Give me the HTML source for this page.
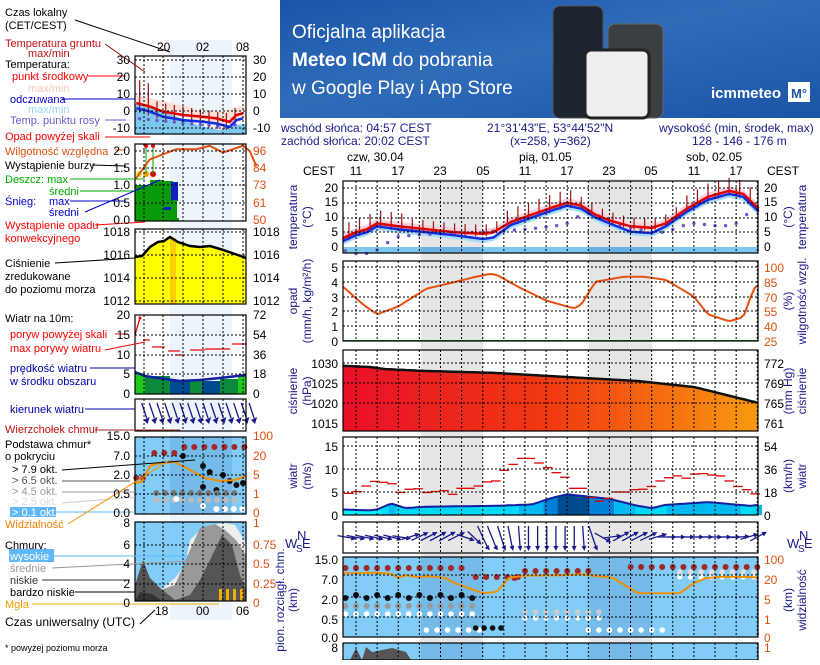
<!DOCTYPE html>
<html><head><meta charset="utf-8">
<style>
body{margin:0;background:#fff;width:820px;height:660px;overflow:hidden;font-family:"Liberation Sans",sans-serif}
svg text{font-family:"Liberation Sans","DejaVu Sans",sans-serif}
</style></head><body>
<svg id="s" width="820" height="660" viewBox="0 0 820 660" xmlns="http://www.w3.org/2000/svg">
<defs>
<linearGradient id="bn" x1="0" y1="0" x2="1" y2="1"><stop offset="0" stop-color="#1a55a8"/><stop offset="0.45" stop-color="#2f6cb8"/><stop offset="1" stop-color="#1c54a6"/></linearGradient>
<linearGradient id="pg" x1="0" y1="0" x2="1" y2="0"><stop offset="0" stop-color="#e8102a"/><stop offset="0.5" stop-color="#f03a10"/><stop offset="1" stop-color="#f89a10"/></linearGradient>
</defs>
<rect x="280" y="0" width="540" height="118" fill="url(#bn)"/>
<text x="292" y="38" fill="#fff" font-size="19">Oficjalna aplikacja</text>
<text x="292" y="66" fill="#fff" font-size="19"><tspan font-weight="bold">Meteo ICM</tspan> do pobrania</text>
<text x="292" y="94" fill="#fff" font-size="19">w Google Play i App Store</text>
<rect x="553" y="6" width="50" height="112" rx="7" fill="#1c2430" stroke="#555"/>
<rect x="608" y="24" width="55" height="94" rx="7" fill="#3a3f44" stroke="#666"/>
<rect x="585" y="50" width="64" height="68" rx="6" fill="#eee" stroke="#222" stroke-width="3"/>
<text x="711" y="98" fill="#fff" font-size="15" font-weight="bold">icmmeteo</text>
<rect x="788" y="82" width="22" height="20" fill="#fff"/><text x="791" y="98" fill="#1c54a6" font-size="13" font-weight="bold">M°</text>

<g id="g"></g>

<g font-size="12" fill="#1a1a8c">
<text x="281" y="132">wschód słońca: 04:57 CEST</text>
<text x="281" y="145">zachód słońca: 20:02 CEST</text>
<text x="487" y="132">21°31'43"E, 53°44'52"N</text>
<text x="510" y="145">(x=258,  y=362)</text>
<text x="659" y="132">wysokość (min, środek, max)</text>
<text x="692" y="145">128 - 146 - 176 m</text>
</g>
<g font-size="12" fill="#000">
<text x="347" y="161">czw, 30.04</text><text x="519" y="161">pią, 01.05</text><text x="686" y="161">sob, 02.05</text>
<text x="303" y="175">CEST</text><text x="767" y="175">CEST</text>
</g>
<g font-size="12" fill="#000" text-anchor="middle">
<text x="356" y="175">11</text><text x="398" y="175">17</text><text x="440" y="175">23</text><text x="483" y="175">05</text><text x="525" y="175">11</text><text x="567" y="175">17</text><text x="609" y="175">23</text><text x="651" y="175">05</text><text x="694" y="175">11</text><text x="736" y="175">17</text>
</g>
<g font-size="12" fill="#000" text-anchor="end">
<text x="338" y="192">20</text><text x="338" y="206">15</text><text x="338" y="221">10</text><text x="338" y="236">5</text><text x="338" y="251">0</text>
<text x="338" y="272">5</text><text x="338" y="287">4</text><text x="338" y="302">3</text><text x="338" y="316">2</text><text x="338" y="331">1</text><text x="338" y="346">0</text>
<text x="338" y="368">1030</text><text x="338" y="388">1025</text><text x="338" y="408">1020</text><text x="338" y="428">1015</text>
<text x="338" y="451">15</text><text x="338" y="474">10</text><text x="338" y="497">5</text><text x="338" y="520">0</text>
<text x="338" y="564">15.0</text><text x="338" y="584">7.0</text><text x="338" y="604">2.0</text><text x="338" y="624">0.5</text><text x="338" y="642">0.0</text>
<text x="338" y="652">8</text>
</g>
<g font-size="12" fill="#000">
<text x="764" y="192">20</text><text x="764" y="206">15</text><text x="764" y="221">10</text><text x="764" y="236">5</text><text x="764" y="251">0</text>
<text x="764" y="368">772</text><text x="764" y="388">769</text><text x="764" y="408">765</text><text x="764" y="428">761</text>
<text x="764" y="451">54</text><text x="764" y="474">36</text><text x="764" y="497">18</text><text x="764" y="520">0</text>
</g>
<g font-size="12" fill="#e05010">
<text x="764" y="272">100</text><text x="764" y="287">85</text><text x="764" y="302">70</text><text x="764" y="316">55</text><text x="764" y="331">40</text><text x="764" y="346">25</text>
<text x="764" y="564">100</text><text x="764" y="584">20</text><text x="764" y="604">5</text><text x="764" y="624">1</text><text x="764" y="642">0</text><text x="764" y="652">1</text>
</g>
<g font-size="12" fill="#1a1a8c" text-anchor="middle">
<text transform="translate(297,217) rotate(-90)">temperatura</text><text transform="translate(311,217) rotate(-90)">(°C)</text>
<text transform="translate(297,301) rotate(-90)">opad</text><text transform="translate(311,301) rotate(-90)">(mm/h, kg/m²/h)</text>
<text transform="translate(297,391) rotate(-90)">ciśnienie</text><text transform="translate(311,391) rotate(-90)">(hPa)</text>
<text transform="translate(297,476) rotate(-90)">wiatr</text><text transform="translate(311,476) rotate(-90)">(m/s)</text>
<text transform="translate(297,600) rotate(-90)">(km)</text><text transform="translate(284,600) rotate(-90)">pion. rozciągł. chm.</text>
<text transform="translate(792,217) rotate(-90)">(°C)</text><text transform="translate(806,217) rotate(-90)">temperatura</text>
<text transform="translate(792,301) rotate(-90)">(%)</text><text transform="translate(806,301) rotate(-90)">wilgotność wzgl.</text>
<text transform="translate(792,391) rotate(-90)">(mm Hg)</text><text transform="translate(806,391) rotate(-90)">ciśnienie</text>
<text transform="translate(792,476) rotate(-90)">(km/h)</text><text transform="translate(806,476) rotate(-90)">wiatr</text>
<text transform="translate(792,600) rotate(-90)">(km)</text><text transform="translate(806,600) rotate(-90)">widzialność</text>
</g>
<g font-size="13" fill="#1a1a8c"><text x="285" y="548">W</text><text x="297" y="540">N</text><text x="296" y="552" font-size="10">S</text><text x="302" y="548">E</text>
<text x="787" y="548">W</text><text x="799" y="540">N</text><text x="798" y="552" font-size="10">S</text><text x="804" y="548">E</text></g>

<g font-size="11" fill="#000">
<text x="5" y="16">Czas lokalny</text><text x="5" y="29">(CET/CEST)</text>
<text x="157" y="51" font-size="12">20</text><text x="196" y="51" font-size="12">02</text><text x="236" y="51" font-size="12">08</text>
<text x="5" y="47" fill="#c01010">Temperatura gruntu</text><text x="28" y="57" fill="#c01010">max/min</text>
<text x="5" y="68">Temperatura:</text>
<text x="12" y="80" fill="#f00">punkt środkowy</text>
<text x="28" y="92" fill="#f8c8b8">max/min</text>
<text x="10" y="103" fill="#00c">odczuwana</text>
<text x="28" y="113" fill="#9ad4f8">max/min</text>
<text x="10" y="124" fill="#6a5acd">Temp. punktu rosy</text>
<text x="5" y="140" fill="#f00">Opad powyżej skali</text>
<text x="5" y="155" fill="#e05010">Wilgotność względna</text>
<text x="5" y="169">Wystąpienie burzy</text>
<text x="5" y="183" fill="#0a0">Deszcz: max</text><text x="49" y="195" fill="#0a0">średni</text>
<text x="5" y="205" fill="#00c">Śnieg:</text><text x="49" y="205" fill="#00c">max</text><text x="49" y="216" fill="#00c">średni</text>
<text x="5" y="229" fill="#f00">Wystąpienie opadu</text><text x="5" y="242" fill="#f00">konwekcyjnego</text>
<text x="5" y="267">Ciśnienie</text><text x="5" y="280">zredukowane</text><text x="5" y="293">do poziomu morza</text>
<text x="5" y="322">Wiatr na 10m:</text>
<text x="10" y="338" fill="#f00">poryw powyżej skali</text>
<text x="10" y="352" fill="#f00">max porywy wiatru</text>
<text x="10" y="372" fill="#00a">prędkość wiatru</text><text x="10" y="385" fill="#00a">w środku obszaru</text>
<text x="10" y="413" fill="#00a">kierunek wiatru</text>
<text x="5" y="433" fill="#c01010">Wierzchołek chmur</text>
<text x="5" y="448">Podstawa chmur*</text><text x="5" y="460">o pokryciu</text>
<text x="12" y="473">&gt; 7.9 okt.</text><text x="12" y="484" fill="#555">&gt; 6.5 okt.</text>
<text x="12" y="495" fill="#999">&gt; 4.5 okt.</text><text x="12" y="505" fill="#ddd">&gt; 2.5 okt.</text>
<rect x="10" y="507" width="46" height="10" fill="#60b8f8"/><text x="12" y="516" fill="#fff">&gt; 0.1 okt.</text>
<text x="5" y="528" fill="#f08000">Widzialność</text>
<text x="5" y="549">Chmury:</text>
<rect x="9" y="549" width="45" height="13" fill="#60b8f8"/><text x="10" y="560" fill="#fff">wysokie</text>
<text x="10" y="572" fill="#999">średnie</text><text x="10" y="584" fill="#333">niskie</text><text x="10" y="596">bardzo niskie</text>
<text x="5" y="608" fill="#f0a000">Mgła</text>
<text x="5" y="626" font-size="12">Czas uniwersalny (UTC)</text>
<text x="155" y="615" font-size="12">18</text><text x="196" y="615" font-size="12">00</text><text x="236" y="615" font-size="12">06</text>
<text x="5" y="651" font-size="9">* powyżej poziomu morza</text>
</g>
<g font-size="12" fill="#000" text-anchor="end">
<text x="130" y="64">30</text><text x="130" y="81">20</text><text x="130" y="98">10</text><text x="130" y="115">0</text><text x="130" y="132">-10</text>
<text x="130" y="155">2.0</text><text x="130" y="172">1.5</text><text x="130" y="189">1.0</text><text x="130" y="207">0.5</text><text x="130" y="224">0.0</text>
<text x="130" y="236">1018</text><text x="130" y="259">1016</text><text x="130" y="282">1014</text><text x="130" y="305">1012</text>
<text x="130" y="319">20</text><text x="130" y="339">15</text><text x="130" y="359">10</text><text x="130" y="378">5</text><text x="130" y="398">0</text>
<text x="130" y="440">15.0</text><text x="130" y="460">7.0</text><text x="130" y="479">2.0</text><text x="130" y="498">0.5</text><text x="130" y="517">0.0</text>
<text x="130" y="527">8</text><text x="130" y="549">6</text><text x="130" y="568">4</text><text x="130" y="588">2</text><text x="130" y="607">0</text>
</g>
<g font-size="12" fill="#000">
<text x="253" y="64">30</text><text x="253" y="81">20</text><text x="253" y="98">10</text><text x="253" y="115">0</text><text x="253" y="132">-10</text>
<text x="253" y="236">1018</text><text x="253" y="259">1016</text><text x="253" y="282">1014</text><text x="253" y="305">1012</text>
<text x="253" y="319">72</text><text x="253" y="339">54</text><text x="253" y="359">36</text><text x="253" y="378">18</text><text x="253" y="398">0</text>
</g>
<g font-size="12" fill="#e05010">
<text x="253" y="155">96</text><text x="253" y="172">84</text><text x="253" y="189">73</text><text x="253" y="207">61</text><text x="253" y="224">50</text>
<text x="253" y="440">100</text><text x="253" y="460">20</text><text x="253" y="479">5</text><text x="253" y="498">1</text><text x="253" y="517">0</text>
<text x="253" y="527">1</text><text x="253" y="549">0.75</text><text x="253" y="568">0.5</text><text x="253" y="588">0.25</text><text x="253" y="607">0</text>
</g>
</svg>
<script>
var g=document.getElementById('g'),h='';
function R(x,y,w,hh,f,extra){h+='<rect x="'+x+'" y="'+y+'" width="'+w+'" height="'+hh+'" fill="'+f+'" '+(extra||'')+'/>';}
function L(x1,y1,x2,y2,c,w,extra){h+='<line x1="'+x1+'" y1="'+y1+'" x2="'+x2+'" y2="'+y2+'" stroke="'+c+'" stroke-width="'+(w||1)+'" '+(extra||'')+'/>';}
function interp(p,t){for(var i=0;i<p.length-1;i++){if(t<=p[i+1][0]){var a=p[i],b=p[i+1];return a[1]+(b[1]-a[1])*(t-a[0])/(b[0]-a[0]);}}return p[p.length-1][1];}
function poly(pts,c,w,fill){h+='<polyline points="'+pts.map(function(q){return q[0].toFixed(1)+','+q[1].toFixed(1)}).join(' ')+'" fill="'+(fill||'none')+'" stroke="'+c+'" stroke-width="'+(w||1)+'"/>';}
function dot(x,y,r,c){h+='<circle cx="'+x.toFixed(1)+'" cy="'+y.toFixed(1)+'" r="'+r+'" fill="'+c+'"/>';}
var X0=343,X1=758;function X(t){return 356+7.04*t;}var H0=-1.85,H1=57.2;
var P=[[181,253],[261,341],[350,431],[437,515],[522,553],[557,637],[643,660]];
R(421,179,62,481,'#e6e6e6');R(589,179,63,481,'#e6e6e6');
var Tf=function(v){return 247-2.95*v};
R(X0,247,X1-X0,6,'#7ec8f0');
R(421,247,62,6,'#6ab0e0');R(589,247,63,6,'#6ab0e0');
var red=[[-1.85,3],[0,5],[1.5,6],[3,8],[6,7],[10,6],[14,5],[18,4.5],[19.5,5],[22,8.5],[25,11],[28,13.5],[30,15],[32,14],[34,11],[36,9],[39,7],[42,6.5],[44,8],[47,13],[50,17],[53,19],[55,18],[57.2,13]];
var blu=red.map(function(p){return [p[0],p[1]-(p[0]>16&&p[0]<20||p[0]>38&&p[0]<44?1.8:1)]});
var up=[],dn=[];for(var t=H0;t<=H1;t+=0.5){up.push([X(t),Tf(interp(red,t)+1.5)]);dn.unshift([X(t),Tf(interp(red,t)-0.8)]);}
poly(up.concat(dn),'none',0,'#f8d0d8');
var up2=[],dn2=[];for(var t=H0;t<=H1;t+=0.5){up2.push([X(t),Tf(interp(blu,t)+0.3)]);dn2.unshift([X(t),Tf(interp(blu,t)-1.3)]);}
poly(up2.concat(dn2),'none',0,'#a8dcf8');
for(var t=-1;t<=H1;t+=1.5){var v=interp(red,t);var d=(t<8?4:(t>20&&t<32?4:(t>46?4:2.5)));L(X(t),Tf(v+d+0.5),X(t),Tf(v-d*0.4),'#a01010',1.2);}
var dew=[[-1.85,-1],[-0.5,-2],[0.5,-2.5],[2,-2],[3,-1],[4,1],[5,2],[6,3.5],[8,4],[12,4.5],[18,5],[20,5.5],[24,6],[28,7],[30,8],[31,9.5],[32,11],[33,12],[34,11],[36,9],[38,7],[42,5],[44,5],[46,7],[48,8],[52,7],[54,8],[55,10],[56,12],[57.2,13]];
for(var t=-1.5;t<H1;t+=1.5)dot(X(t),Tf(interp(dew,t)),1.7,'#6a5acd');
poly(blu.map(function(p){return [X(p[0]),Tf(p[1])]}),'#1030e0',2.5);
poly(red.map(function(p){return [X(p[0]),Tf(p[1])]}),'#e00000',2.5);
var hum=[[-1.85,80],[1,62],[3,52],[6,60],[10,78],[13,83],[17,90],[19,93],[20,92],[23,80],[27,66],[31,58],[32,62],[34,85],[38,90],[41,90],[44,87],[48,70],[50,52],[53,45],[55,49],[56.5,78],[57.2,82]];
var hp=[];for(var t=H0;t<=H1;t+=0.5)hp.push([X(t),341-(interp(hum,t)-25)*0.987]);
poly(hp,'#e85010',2);
L(X0,340.5,X1,340.5,'#0a0',1);
var pr=[[-1.85,1029.3],[2,1029],[4,1028.5],[10,1028],[20,1027.5],[30,1026.5],[40,1025.5],[48,1024],[57.2,1020]];
var pp=[[X0,431]];for(var t=H0;t<=H1;t+=0.5)pp.push([X(t),423-(interp(pr,t)-1015)*4]);pp.push([X1,431]);
poly(pp,'none',0,'url(#pg)');poly(pp.slice(1,-1),'#111',2.5);
var ws=[[-1.85,1.2],[2,1],[3,1.2],[5,2.5],[7,1.5],[10,1.8],[20,2],[25,2.3],[28,3.8],[30,4.5],[36,3.5],[40,2],[42,1.5],[44,2.2],[50,2.8],[56,2],[57.2,2.2]];
function Wf(v){return 515-4.6*v}
for(var t=H0;t<H1;t+=0.5){var v=interp(ws,t+0.25);var c=v<1.5?'#00f0f8':v<2.2?'#00d8f8':v<3.2?'#00b8f0':v<4?'#0080d8':'#004a90';h+='<rect x="'+X(t).toFixed(1)+'" y="'+Wf(v).toFixed(1)+'" width="3.8" height="'+(515-Wf(v)).toFixed(1)+'" fill="'+c+'"/>';}
var wp=[];for(var t=H0;t<=H1;t+=0.5)wp.push([X(t),Wf(interp(ws,t))]);poly(wp,'#1020a0',2);
var gu=[4.7,5.1,6.3,7.3,7.1,6.8,4.9,5.6,5.7,4.9,5.1,5.3,4.5,5.8,5.8,6.3,7.2,7.4,9.7,11,12.3,12.3,11.3,10.3,9.2,8.2,5.8,5.8,3.8,3,3.6,5,5,5.5,5.6,6.2,7.4,8.1,8.5,8.0,8.9,9.0,8.7,8.5,7.4,6.2,5.5,4.6];
var gs=(X1-X0)/gu.length;for(var i=0;i<gu.length;i++)L(X0+i*gs+1,Wf(gu[i]),X0+i*gs+gs+2,Wf(gu[i]),'#e00000',1.3);
// wind dir arrows (angle from east, clockwise positive = down)
var wd=[[-1.85,10],[6,15],[8,-25],[14,-30],[16,40],[20,60],[24,90],[32,90],[34,55],[37,-30],[42,-25],[44,0],[54,0],[57.2,-30]];
for(var t=-1.5;t<H1;t+=1.3){var x=X(t);var a=interp(wd,t)*Math.PI/180;var dx=Math.cos(a)*8,dy=Math.sin(a)*8;if(dy>6)dy=11;
var x1=x-dx,y1=537-dy,x2=x+dx,y2=537+dy;L(x1,y1,x2,y2,'#1a1a8c',1.3);
var ux=Math.cos(a),uy=Math.sin(a);h+='<polygon points="'+(x2+ux*3).toFixed(1)+','+(y2+uy*3).toFixed(1)+' '+(x2-uy*2.5-ux*2).toFixed(1)+','+(y2+ux*2.5-uy*2).toFixed(1)+' '+(x2+uy*2.5-ux*2).toFixed(1)+','+(y2-ux*2.5-uy*2).toFixed(1)+'" fill="#1a1a8c"/>';}
R(X0,557,X1-X0,80,'#82cdf8');R(421,557,62,80,'#74bbea');R(589,557,63,80,'#74bbea');
for(var t=-1.5;t<H1;t+=1.5){if(t<16||(t>22&&t<34)||t>38)dot(X(t),t<16?568:(t<24?578:(t<34?571:567)),3,'#a02828');}
for(var t=17;t<24;t+=1.5)dot(X(t),577,3,'#a02828');
for(var t=-1.5;t<17;t+=1.5){dot(X(t),598-(t%3==0?3:0),3,'#111');dot(X(t),606,3,'#999');dot(X(t),614,2.8,'#fff');}
for(var t=24;t<35;t+=1.5){dot(X(t),612,2.8,'#ccc');dot(X(t),618,2.6,'#fff');}
for(var t=10;t<19;t+=1.5)dot(X(t),630,2.8,'#fff');for(var t=17;t<21;t+=1.2)dot(X(t),628,2.8,'#111');
for(var t=33;t<45;t+=1.5)dot(X(t),630,2.8,'#fff');
for(var t=46;t<H1;t+=1.5){dot(X(t),572,2.8,'#ddd');dot(X(t),577,2.6,'#fff');}
var vis=[[-1.85,40],[3,42],[5,38],[6,20],[7,32],[9,22],[10,28],[14,16],[18,8],[20,9],[22,22],[24,30],[30,32],[32,36],[36,22],[40,8],[46,8],[48,16],[52,25],[56,24],[57.2,22]];
function VY(v){return interp([[0,636],[1,617],[5,597],[20,578],[100,559]],v)}
var vp=[];for(var t=H0;t<=H1;t+=0.5)vp.push([X(t),VY(interp(vis,t))]);poly(vp,'#f09000',2);
R(X0,643,X1-X0,20,'#82cdf8');R(421,643,62,20,'#74bbea');R(589,643,63,20,'#74bbea');
h+='<polygon points="350,660 356,648 362,660 366,647 372,652 382,650 392,648 406,652 411,660" fill="#555"/>';
function grid(y0,y1,ys){for(var t=0;t<=H1;t+=3)L(X(t),y0,X(t),y1,'#000',1,'stroke-dasharray="2,2"');ys.forEach(function(y){L(X0,y,X1,y,'#000',1,'stroke-dasharray="2,2"')});}
grid(181,253,[188,203,218,232]);grid(261,341,[267,282,297,311,326]);grid(350,431,[363,383,403]);grid(437,515,[446,469,492]);grid(522,553,[]);grid(557,637,[575,597,617]);grid(643,660,[]);
P.forEach(function(p){R(X0,p[0],X1-X0,p[1]-p[0],'none','stroke="#000" stroke-width="1.2"');});
// ===== LEFT =====
var x0=135,x1=246;function lx(t){return 163+6.67*t;}
R(170,40,62,580,'#eef4fc');
var LP=[[56,134],[144,221],[229,304],[315,394],[399,431],[437,514],[522,601]];
function lt(v){return 115-1.7*v}
h+='<polygon points="135,104 160,110 180,118 200,126 220,130 235,125 246,124 246,134 135,134" fill="#7ec8f0"/>';
h+='<polygon points="135,95 160,100 180,105 200,110 220,112 235,108 246,105 246,118 235,124 220,126 200,122 180,114 160,108 135,102" fill="#fbe0d8"/>';
for(var t=-3.5;t<11;t+=1.3){var v=interp([[-4,7],[0,2],[6,-2],[10,-4],[11,0]],t);L(lx(t),lt(v+(t<-1?14:5)),lx(t),lt(v-5),'#a01010',1.2);}
for(var t=-3.5;t<12;t+=1.3)dot(lx(t),lt(interp([[-4,-2],[4,-5],[10,-7],[12,-4]],t)),1.7,'#6a5acd');
var lr=[[-4,7],[-2,5],[0,2],[3,0],[6,-1],[8,-2],[10,-4],[11,0],[12,1]];
poly(lr.map(function(p){return [lx(p[0]),lt(p[1]-3)]}),'#1030e0',2.5);
poly(lr.map(function(p){return [lx(p[0]),lt(p[1])]}),'#e00000',2.5);
R(135,185,18,36,'#0a9a0a');R(150,180,14,41,'#0a9a0a');R(164,181,9,40,'#0a9a0a');R(171,182,7,19,'#1020c0');R(172,200,5,21,'#0a9a0a');R(164,207,7,14,'#1020c0');R(164,210,7,11,'#0a9a0a');R(173,218,6,3,'#0a9a0a');
dot(139,174,3,'#f0e020');dot(146,174,3,'#f0a000');dot(153,174,3,'#e00000');
L(146,146,146,174,'#0a0');L(153,146,153,174,'#0a0');dot(146,146,2,'#e00');dot(153,146,2,'#e00');
var lh=[];[[-4,76],[-2,88],[2,94],[5,94],[7,96],[9,92],[12,96],[13,93],[14,84]].forEach(function(p){lh.push([lx(p[0]),224-(p[1]-50)*1.7])});lh[0][0]=135;poly(lh,'#e05010',2);
h+='<polygon points="135,257 142,256 150,247 158,242 164,241 170,237 178,242 190,246 200,247 210,246 220,249 235,254 246,258 246,304 135,304" fill="#ffff00"/>';
R(170,238,6,66,'#f8d000');
poly([[135,257],[142,256],[150,247],[158,242],[164,241],[170,237],[178,242],[190,246],[200,247],[210,246],[220,249],[235,254],[246,258]],'#000',2.5);
R(135,373,10,21,'#20c820');R(145,376,25,18,'#0a8a3a');R(170,380,34,14,'#004a90');R(190,380,12,14,'#0a8a3a');R(204,381,16,13,'#004a90');R(220,379,18,15,'#0a8a3a');R(238,375,8,19,'#20c820');
poly([[135,372],[145,376],[165,379],[180,381],[200,380],[220,378],[246,375]],'#1020a0',2.5);
L(135,335,140,318,'#e00',1.3);dot(140,318,1.5,'#e00');
[[143,340,150],[152,347,165],[168,351,180],[175,355,185],[190,350,205],[205,349,230],[232,344,246]].forEach(function(a){L(a[0],a[1],a[2],a[1],'#e00',1.2)});
for(var t=-3.8;t<12.4;t+=1.15){var x=lx(t);L(x+4,403,x+9,418,'#1a1a8c',1.3);h+='<polygon points="'+(x+6)+','+(420)+' '+(x+12)+','+(417)+' '+(x+10)+','+(424)+'" fill="#1a1a8c"/>';}
R(135,437,111,77,'#82cdf8');R(170,437,62,77,'#74bbea');
for(var t=-1.3;t<12.4;t+=1.5)dot(lx(t),t<2?453:447,3,'#a02828');dot(lx(-4),478,3,'#a02828');dot(lx(-3),478,3,'#a02828');
[[4,456],[7,466],[8,472],[10,475],[11,481],[12,485],[7,487],[13,483],[9,490]].forEach(function(p){dot(lx(p[0]-1),p[1],3,'#111')});
for(var t=-1;t<12;t+=1.3){dot(lx(t),493,3,'#777');dot(lx(t),500,3,'#bbb');}
for(var t=8;t<13;t+=1.3)dot(lx(t),509,3,'#fff');dot(lx(2),499,3,'#fff');dot(lx(6),506,3,'#fff');
poly([[135,483],[142,482],[150,466],[160,463],[175,462],[190,470],[205,478],[220,481],[235,480],[246,476]],'#f09000',2);
R(135,522,111,79,'#82cdf8');
h+='<polygon points="135,601 135,582 140,575 145,565 150,578 160,590 175,578 185,565 190,540 200,530 210,525 225,523 235,525 246,543 246,601" fill="#eee"/>';
h+='<polygon points="135,601 160,590 175,585 190,550 200,528 215,524 225,530 236,540 246,555 246,601" fill="#999"/>';
h+='<polygon points="135,601 135,585 143,560 150,578 160,588 175,600 190,595 200,580 210,560 222,535 232,545 240,575 246,590 246,601" fill="#555"/>';
h+='<polygon points="135,601 140,592 152,594 162,601" fill="#333"/>';
[219,226,233,240].forEach(function(x){R(x,589,3,12,'#f0b000')});
function lgrid(y0,y1,ys){[144,163,183,203,223,243].forEach(function(x){L(x,y0,x,y1,'#000',1,'stroke-dasharray="2,2"')});ys.forEach(function(y){L(x0,y,x1,y,'#000',1,'stroke-dasharray="2,2"')});}
lgrid(56,134,[60,77,94,111,128]);lgrid(144,221,[151,168,185,203]);lgrid(229,304,[232,255,278,301]);lgrid(315,394,[335,355,374]);lgrid(399,431,[]);lgrid(437,514,[456,475,494]);lgrid(522,601,[545,564,584]);
LP.forEach(function(p){R(x0,p[0],x1-x0,p[1]-p[0],'none','stroke="#000" stroke-width="1.2"')});
var LL=[[75,20,170,52,'#000'],[105,44,145,72,'#a01010'],[88,76,126,76,'#f00'],[62,99,135,99,'#00c'],[105,120,126,120,'#6a5acd'],[105,137,150,137,'#f00'],[115,150,126,150,'#e05010'],[92,165,126,166,'#000'],[70,179,145,179,'#0a0'],[80,191,135,191,'#0a0'],[70,201,126,201,'#00c'],[85,212,160,180,'#00c'],[95,225,145,222,'#f00'],[55,263,135,258,'#000'],[115,334,128,334,'#f00'],[105,350,145,342,'#f00'],[90,368,135,368,'#00a'],[85,409,135,409,'#00a'],[95,430,180,430,'#a02828'],[62,470,195,460,'#000'],[62,481,130,481,'#555'],[62,492,135,492,'#999'],[62,503,135,497,'#ccc'],[56,512,135,512,'#60b8f8'],[68,524,170,460,'#f09000'],[54,556,190,556,'#60b8f8'],[52,568,190,561,'#999'],[42,580,130,580,'#333'],[75,592,135,592,'#000'],[32,604,219,604,'#f0b000'],[140,624,155,610,'#000']];
LL.forEach(function(a){L(a[0],a[1],a[2],a[3],a[4],1)});
g.innerHTML=h;
</script>
</body></html>
